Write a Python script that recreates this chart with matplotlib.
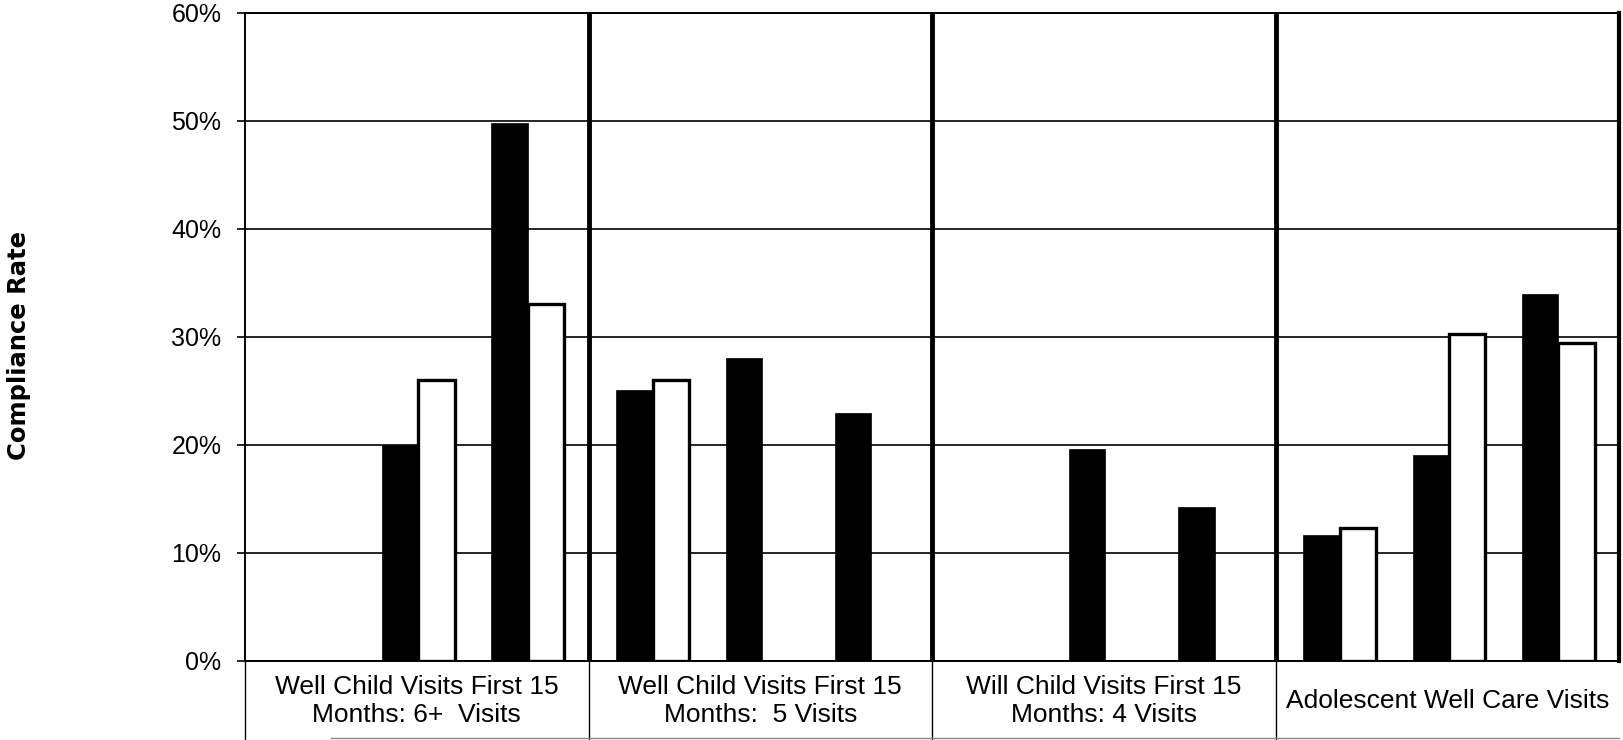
import numpy as np
import matplotlib
matplotlib.use("Agg")
import matplotlib.pyplot as plt
import matplotlib.transforms as mtransforms

plt.rcParams['font.family'] = ['Liberation Sans', 'DejaVu Sans']

# measures, each with three paired bars (black / white)
groups = ["Well Child Visits First 15\nMonths: 6+  Visits",
          "Well Child Visits First 15\nMonths:  5 Visits",
          "Will Child Visits First 15\nMonths: 4 Visits",
          "Adolescent Well Care Visits"]
black_vals = [[np.nan, 20.0, 49.8],
              [25.1, 28.1, 23.0],
              [np.nan, 19.6, 14.3],
              [11.7, 19.1, 34.0]]
white_vals = [[np.nan, 26.0, 33.1],
              [26.0, np.nan, np.nan],
              [np.nan, np.nan, np.nan],
              [12.3, 30.3, 29.4]]
yticks = [0, 10, 20, 30, 40, 50, 60]

W, H = 1623, 740
y0, y1 = 661, 13
fig = plt.figure(figsize=(W / 100, H / 100), dpi=100)
ax = fig.add_axes([245 / W, 1 - y0 / H, (1619 - 245) / W, (y0 - y1) / H])

bw = 0.106
step = 0.318
for g in range(len(groups)):
    for k in range(3):
        c = g + 0.5 + (k - 1) * step + 0.005
        b = black_vals[g][k]
        w = white_vals[g][k]
        if not np.isnan(b):
            ax.bar(c - bw / 2, b, width=bw, color='black', edgecolor='black',
                   linewidth=0.5, zorder=3)
        if not np.isnan(w):
            ax.bar(c + bw / 2, w, width=bw, color='white', edgecolor='black',
                   linewidth=2.4, zorder=3)

ax.set_xlim(0, len(groups))
ax.set_ylim(0, 60)
ax.set_yticks(yticks)
ax.set_yticklabels(['%d%%' % t for t in yticks])
ax.set_xticks([])
ax.tick_params(axis='y', labelsize=18, length=6, width=1.2, pad=11,
               direction='out', colors='black')
ax.yaxis.grid(True, color='black', linewidth=1.2)
ax.set_axisbelow(True)

for s in ['left', 'bottom', 'top']:
    ax.spines[s].set_linewidth(1.4)
ax.spines['right'].set_linewidth(3)

# thick dividers between measures
for g in range(1, len(groups)):
    ax.axvline(g, color='black', linewidth=3.5, zorder=4)

# category label boxes under the axis
trans = mtransforms.blended_transform_factory(ax.transData, fig.transFigure)
for g in range(len(groups)):
    ax.plot([g, g], [1 - y0 / H, 0], color='black', linewidth=1.0,
            transform=trans, clip_on=False)
    ax.text(g + 0.5, 1 - 701 / H, groups[g], transform=trans, ha='center',
            va='center', fontsize=19, linespacing=1.25)
ax.plot([0.25, 4], [2 / H, 2 / H], color='#888888', linewidth=1.0,
        transform=trans, clip_on=False)

fig.text(19 / W, 1 - 346 / H, "Compliance Rate", rotation=90, ha='center',
         va='center', fontsize=17.5, fontweight='bold', family='DejaVu Sans')

fig.savefig("out.png", dpi=100)
